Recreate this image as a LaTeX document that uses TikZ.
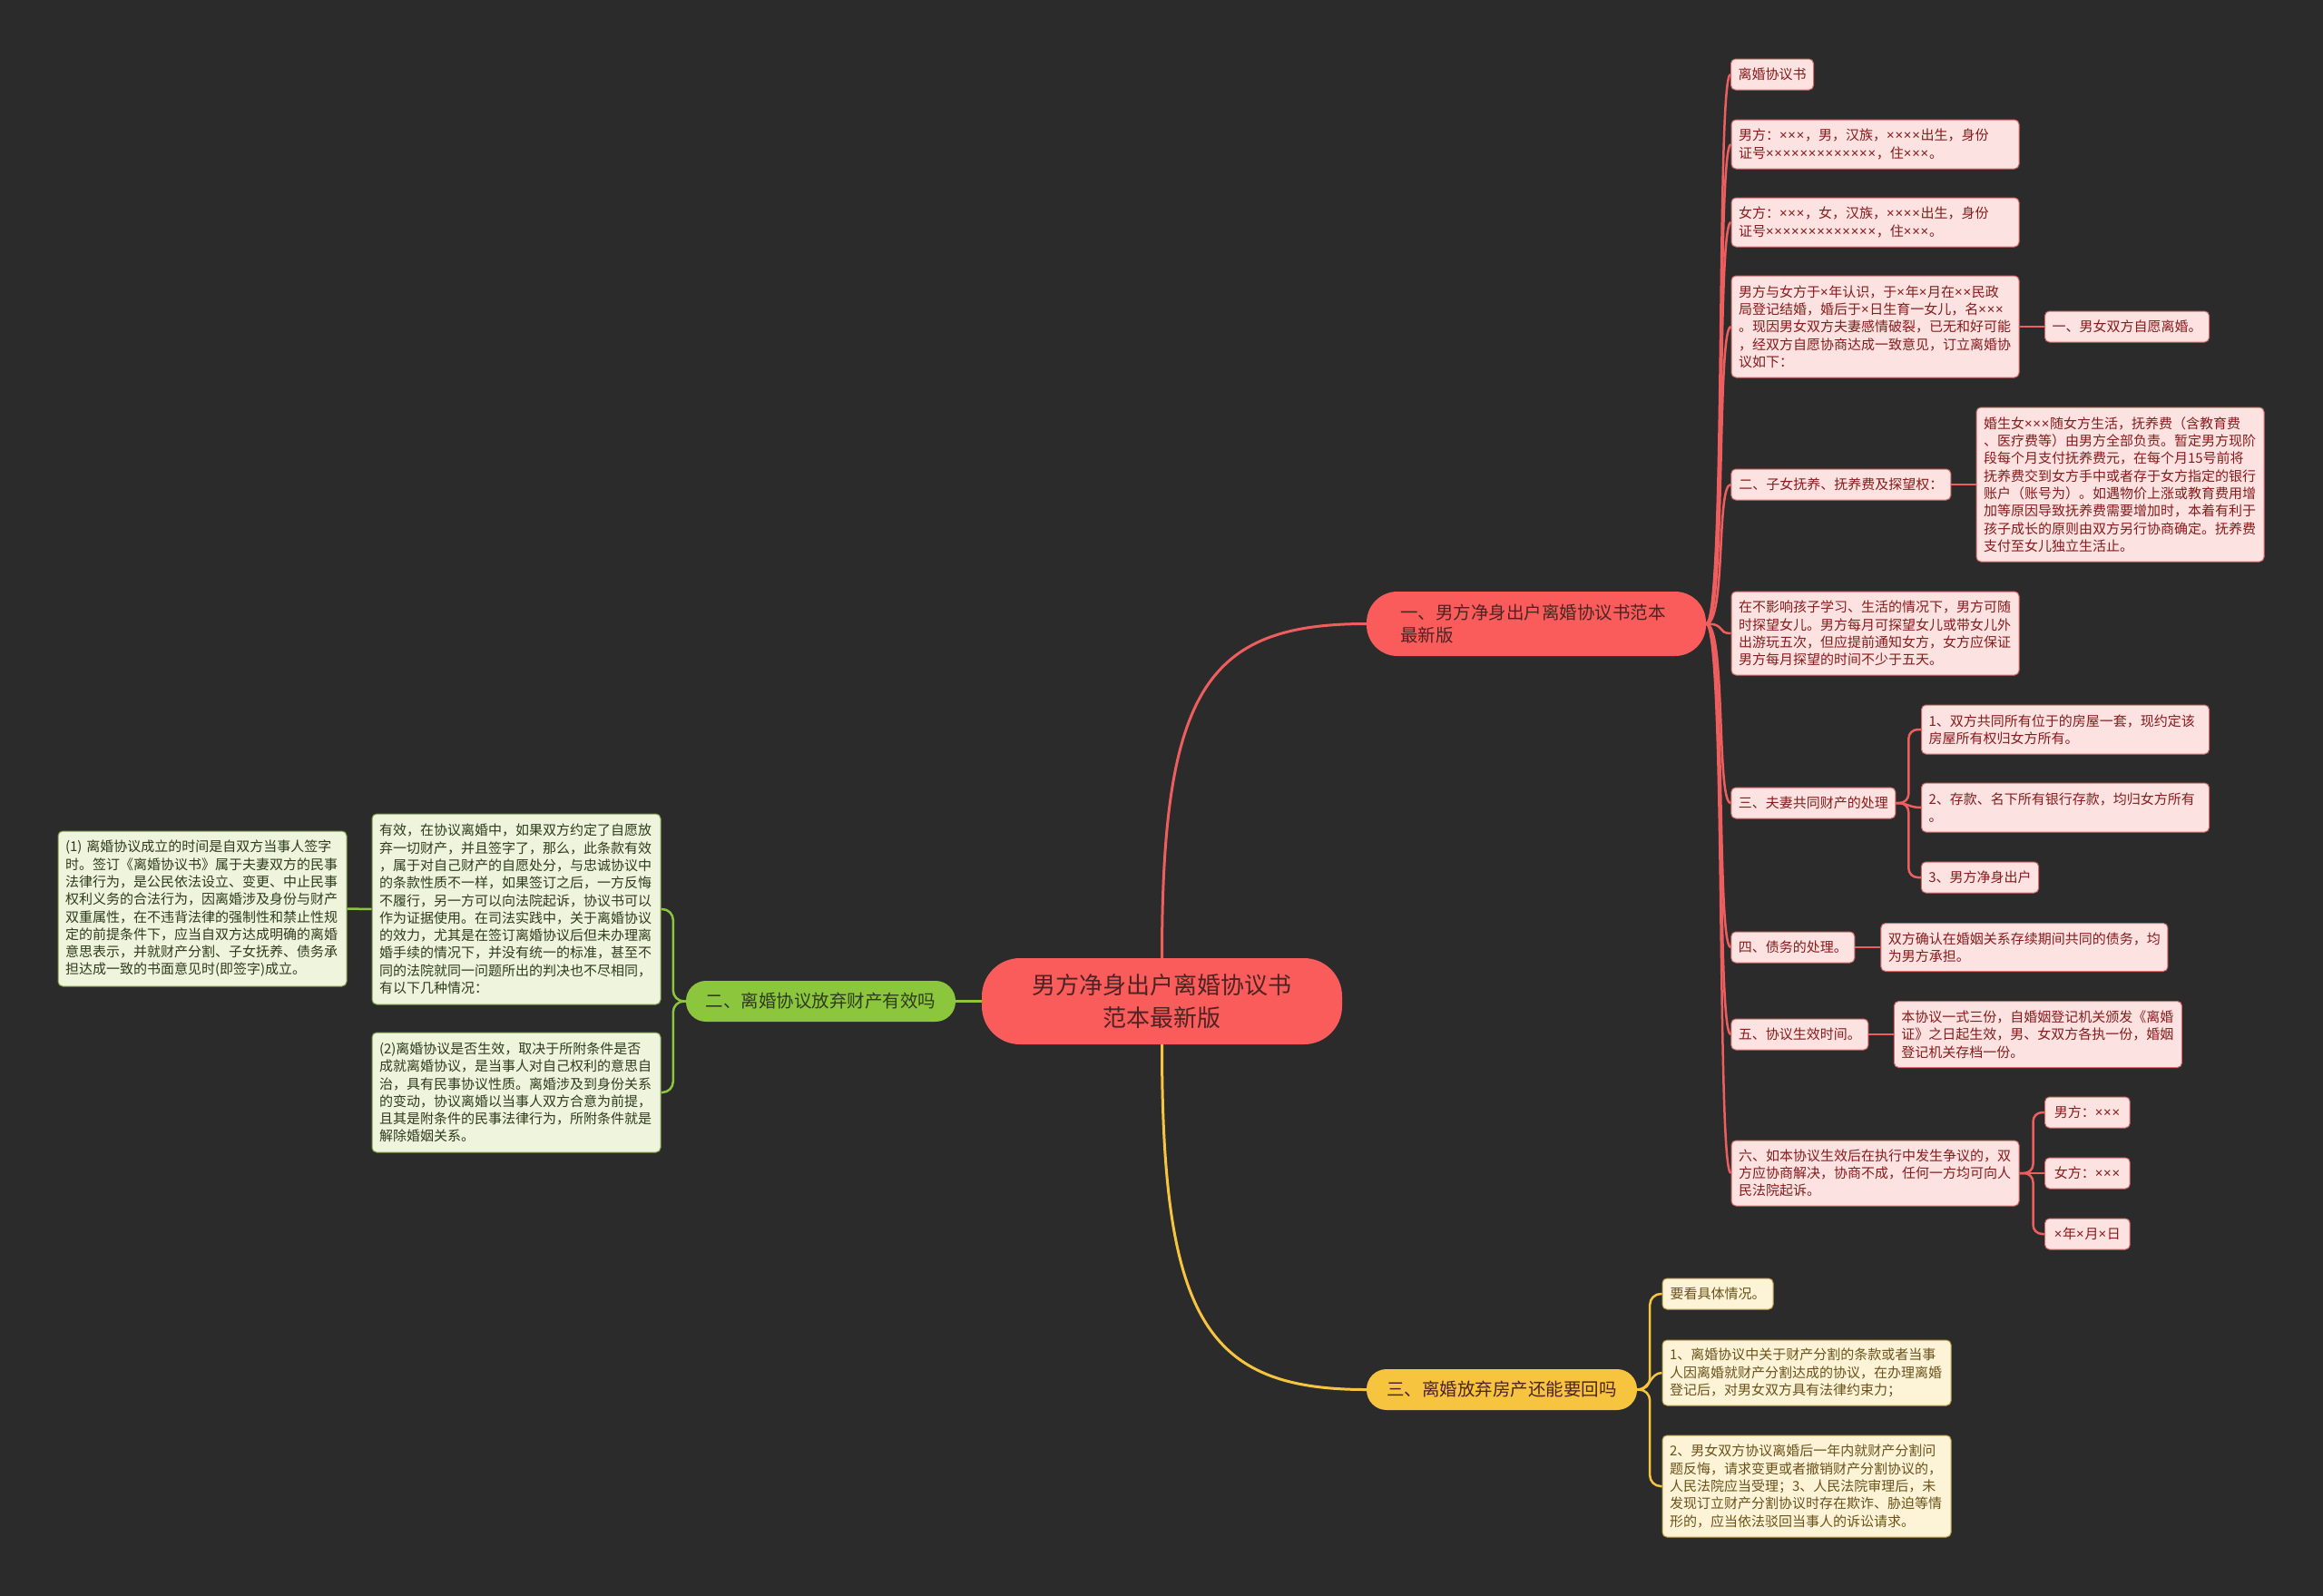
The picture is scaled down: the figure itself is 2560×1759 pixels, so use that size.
\documentclass[tikz,border=0pt]{standalone}
\usepackage{fontspec}
\setmainfont{Noto Sans CJK SC}
\newfontfamily\latinf{Noto Sans}
\newcommand\xm{{\latinf ×}\kern0.8pt}
\usetikzlibrary{calc}
\definecolor{bgc}{HTML}{2B2B2B}
\definecolor{redm}{HTML}{FA5C5C}
\definecolor{redl}{HTML}{EE5E5E}
\definecolor{redf}{HTML}{FDE2E2}
\definecolor{redd}{HTML}{D86A6A}
\definecolor{redt}{HTML}{861C1C}
\definecolor{ctext}{HTML}{4D2323}
\definecolor{grm}{HTML}{8CC63C}
\definecolor{grf}{HTML}{EFF5DC}
\definecolor{grd}{HTML}{7C9A45}
\definecolor{grt}{HTML}{2E3B1C}
\definecolor{ylm}{HTML}{F7C440}
\definecolor{ylf}{HTML}{FDF4D8}
\definecolor{yld}{HTML}{C2A24A}
\definecolor{ylt}{HTML}{6A521A}
\begin{document}
\begin{tikzpicture}[x=1pt,y=-1pt,
  box/.style={rounded corners=5, line width=1, inner xsep=8, inner ysep=3, font=\fontsize{15}{19.3}\selectfont},
  rbox/.style={box, draw=redd, fill=redf, text=redt},
  gbox/.style={box, draw=grd, fill=grf, text=grt},
  ybox/.style={box, draw=yld, fill=ylf, text=ylt},
  tw/.style={text width=#1, align=left},
  rl/.style={draw=redl, line width=2.5},
  gl/.style={draw=grm, line width=2.5},
  yl/.style={draw=ylm, line width=2.5}]
\fill[bgc] (0,0) rectangle (2560,1759);
\useasboundingbox (0,0) rectangle (2560,1759);

% main nodes
\node[fill=redm, text=ctext, rounded corners=42, minimum width=397, minimum height=95, align=center, font=\fontsize{26}{36.5}\selectfont] (c) at (1280.5,1103.5) {男方净身出户离婚协议书\\范本最新版};
\node[fill=redm, text=ctext, rounded corners=34, minimum height=71, text width=300, inner xsep=37, align=left, font=\fontsize{19.5}{25.7}\selectfont] (b1) at (1693,687.5) {一、男方净身出户离婚协议书范本\\最新版};
\node[fill=grm, text=grt, rounded corners=22, minimum width=297, minimum height=45, font=\fontsize{19.5}{24}\selectfont] (b2) at (904.5,1103.5) {二、离婚协议放弃财产有效吗};
\node[fill=ylm, text=ctext, rounded corners=22, minimum width=298, minimum height=45, font=\fontsize{19.5}{24}\selectfont] (b3) at (1655,1531.5) {三、离婚放弃房产还能要回吗};

% red children
\node[rbox, minimum width=90, minimum height=34] (r1) at (1953,82) {离婚协议书};
\node[rbox, tw=301, minimum height=54] (r2) at (2066.5,159) {男方：\xm\xm\xm，男，汉族，\xm\xm\xm\xm 出生，身份\\证号\xm\xm\xm\xm\xm\xm\xm\xm\xm\xm\xm\xm\xm，住\xm\xm\xm。};
\node[rbox, tw=301, minimum height=54] (r3) at (2066.5,245) {女方：\xm\xm\xm，女，汉族，\xm\xm\xm\xm 出生，身份\\证号\xm\xm\xm\xm\xm\xm\xm\xm\xm\xm\xm\xm\xm，住\xm\xm\xm。};
\node[rbox, tw=301, minimum height=112] (r4) at (2066.5,360) {男方与女方于\xm 年认识，于\xm 年\xm 月在\xm\xm 民政\\局登记结婚，婚后于\xm 日生育一女儿，名\xm\xm\xm\\。现因男女双方夫妻感情破裂，已无和好可能\\，经双方自愿协商达成一致意见，订立离婚协\\议如下：};
\node[rbox, minimum width=181, minimum height=34] (r4a) at (2344,360) {一、男女双方自愿离婚。};
\node[rbox, minimum width=242, minimum height=34] (r5) at (2028.8,534) {二、子女抚养、抚养费及探望权：};
\node[rbox, tw=301, minimum height=170] (r5a) at (2336.5,534) {婚生女\xm\xm\xm 随女方生活，抚养费（含教育费\\、医疗费等）由男方全部负责。暂定男方现阶\\段每个月支付抚养费元，在每个月15号前将\\抚养费交到女方手中或者存于女方指定的银行\\账户（账号为）。如遇物价上涨或教育费用增\\加等原因导致抚养费需要增加时，本着有利于\\孩子成长的原则由双方另行协商确定。抚养费\\支付至女儿独立生活止。};
\node[rbox, tw=301, minimum height=92] (r6) at (2066.5,698) {在不影响孩子学习、生活的情况下，男方可随\\时探望女儿。男方每月可探望女儿或带女儿外\\出游玩五次，但应提前通知女方，女方应保证\\男方每月探望的时间不少于五天。};
\node[rbox, minimum width=181, minimum height=34] (r7) at (1998.3,885) {三、夫妻共同财产的处理};
\node[rbox, tw=301, minimum height=54] (r7a) at (2276,804) {1、双方共同所有位于的房屋一套，现约定该\\房屋所有权归女方所有。};
\node[rbox, tw=301, minimum height=54] (r7b) at (2276,890) {2、存款、名下所有银行存款，均归女方所有\\。};
\node[rbox, minimum width=129, minimum height=34] (r7c) at (2182,967) {3、男方净身出户};
\node[rbox, minimum width=135.6, minimum height=34] (r8) at (1975.8,1044) {四、债务的处理。};
\node[rbox, tw=300, minimum height=53] (r8a) at (2230.9,1044) {双方确认在婚姻关系存续期间共同的债务，均\\为男方承担。};
\node[rbox, minimum width=150.7, minimum height=34] (r9) at (1983.3,1140) {五、协议生效时间。};
\node[rbox, tw=301, minimum height=73] (r9a) at (2245.9,1140) {本协议一式三份，自婚姻登记机关颁发《离婚\\证》之日起生效，男、女双方各执一份，婚姻\\登记机关存档一份。};
\node[rbox, tw=301, minimum height=72] (r10) at (2066.5,1293) {六、如本协议生效后在执行中发生争议的，双\\方应协商解决，协商不成，任何一方均可向人\\民法院起诉。};
\node[rbox, minimum width=93.6, minimum height=34] (r10a) at (2300.4,1226) {男方：\xm\xm\xm};
\node[rbox, minimum width=93.6, minimum height=34] (r10b) at (2300.4,1293) {女方：\xm\xm\xm};
\node[rbox, minimum width=93.6, minimum height=34] (r10c) at (2300.4,1360) {\xm 年\xm 月\xm 日};

% yellow children
\node[ybox, minimum width=122, minimum height=34] (y1) at (1893,1426) {要看具体情况。};
\node[ybox, tw=302, minimum height=72] (y2) at (1991,1513) {1、离婚协议中关于财产分割的条款或者当事\\人因离婚就财产分割达成的协议，在办理离婚\\登记后，对男女双方具有法律约束力；};
\node[ybox, tw=302, minimum height=112] (y3) at (1991,1638) {2、男女双方协议离婚后一年内就财产分割问\\题反悔，请求变更或者撤销财产分割协议的，\\人民法院应当受理；3、人民法院审理后，未\\发现订立财产分割协议时存在欺诈、胁迫等情\\形的，应当依法驳回当事人的诉讼请求。};

% green children
\node[gbox, tw=302, minimum height=210] (g1) at (569,1002) {有效，在协议离婚中，如果双方约定了自愿放\\弃一切财产，并且签字了，那么，此条款有效\\，属于对自己财产的自愿处分，与忠诚协议中\\的条款性质不一样，如果签订之后，一方反悔\\不履行，另一方可以向法院起诉，协议书可以\\作为证据使用。在司法实践中，关于离婚协议\\的效力，尤其是在签订离婚协议后但未办理离\\婚手续的情况下，并没有统一的标准，甚至不\\同的法院就同一问题所出的判决也不尽相同，\\有以下几种情况：};
\node[gbox, tw=302, minimum height=132] (g2) at (569,1204) {(2)离婚协议是否生效，取决于所附条件是否\\成就离婚协议，是当事人对自己权利的意思自\\治，具有民事协议性质。离婚涉及到身份关系\\的变动，协议离婚以当事人双方合意为前提，\\且其是附条件的民事法律行为，所附条件就是\\解除婚姻关系。};
\node[gbox, tw=302, minimum height=171] (g3) at (223,1001.5) {(1) 离婚协议成立的时间是自双方当事人签字\\时。签订《离婚协议书》属于夫妻双方的民事\\法律行为，是公民依法设立、变更、中止民事\\权利义务的合法行为，因离婚涉及身份与财产\\双重属性，在不违背法律的强制性和禁止性规\\定的前提条件下，应当自双方达成明确的离婚\\意思表示，并就财产分割、子女抚养、债务承\\担达成一致的书面意见时(即签字)成立。};

% main connectors
\draw[rl, line width=3] (c.north) .. controls ($(c.north)+(0,-296)$) and ($(b1.west)+(-176,0)$) .. (b1.west);
\draw[yl, line width=3] (c.south) .. controls ($(c.south)+(0,304)$) and ($(b3.west)+(-176,0)$) .. (b3.west);
\draw[gl, line width=3] (c.west) -- (b2.east);

% red spine
\foreach \n in {r1,r2,r3,r4,r5,r6,r7,r8,r9,r10}
  \draw[rl] (b1.east) .. controls +(22,0) and +(-16,0) .. (\n.west);
\draw[rl] (r4.east) -- (r4a.west);
\draw[rl] (r5.east) -- (r5a.west);
\draw[rl] (r8.east) -- (r8a.west);
\draw[rl] (r9.east) -- (r9a.west);
\draw[rl, rounded corners=10] (r7.east) -- ++(14,0) |- (r7a.west);
\draw[rl] (r7.east) .. controls +(14,0) and +(-14,0) .. (r7b.west);
\draw[rl, rounded corners=10] (r7.east) -- ++(14,0) |- (r7c.west);
\draw[rl, rounded corners=10] (r10.east) -- ++(15,0) |- (r10a.west);
\draw[rl] (r10.east) -- (r10b.west);
\draw[rl, rounded corners=10] (r10.east) -- ++(15,0) |- (r10c.west);

% yellow
\draw[yl, rounded corners=12] (b3.east) -- ++(14,0) |- (y1.west);
\draw[yl] (b3.east) .. controls +(14,0) and +(-13,0) .. (y2.west);
\draw[yl, rounded corners=12] (b3.east) -- ++(14,0) |- (y3.west);

% green
\draw[gl, rounded corners=12] (b2.west) -- ++(-14,0) |- (g1.east);
\draw[gl, rounded corners=12] (b2.west) -- ++(-14,0) |- (g2.east);
\draw[gl] (g1.west) -- (g3.east);
\end{tikzpicture}
\end{document}
